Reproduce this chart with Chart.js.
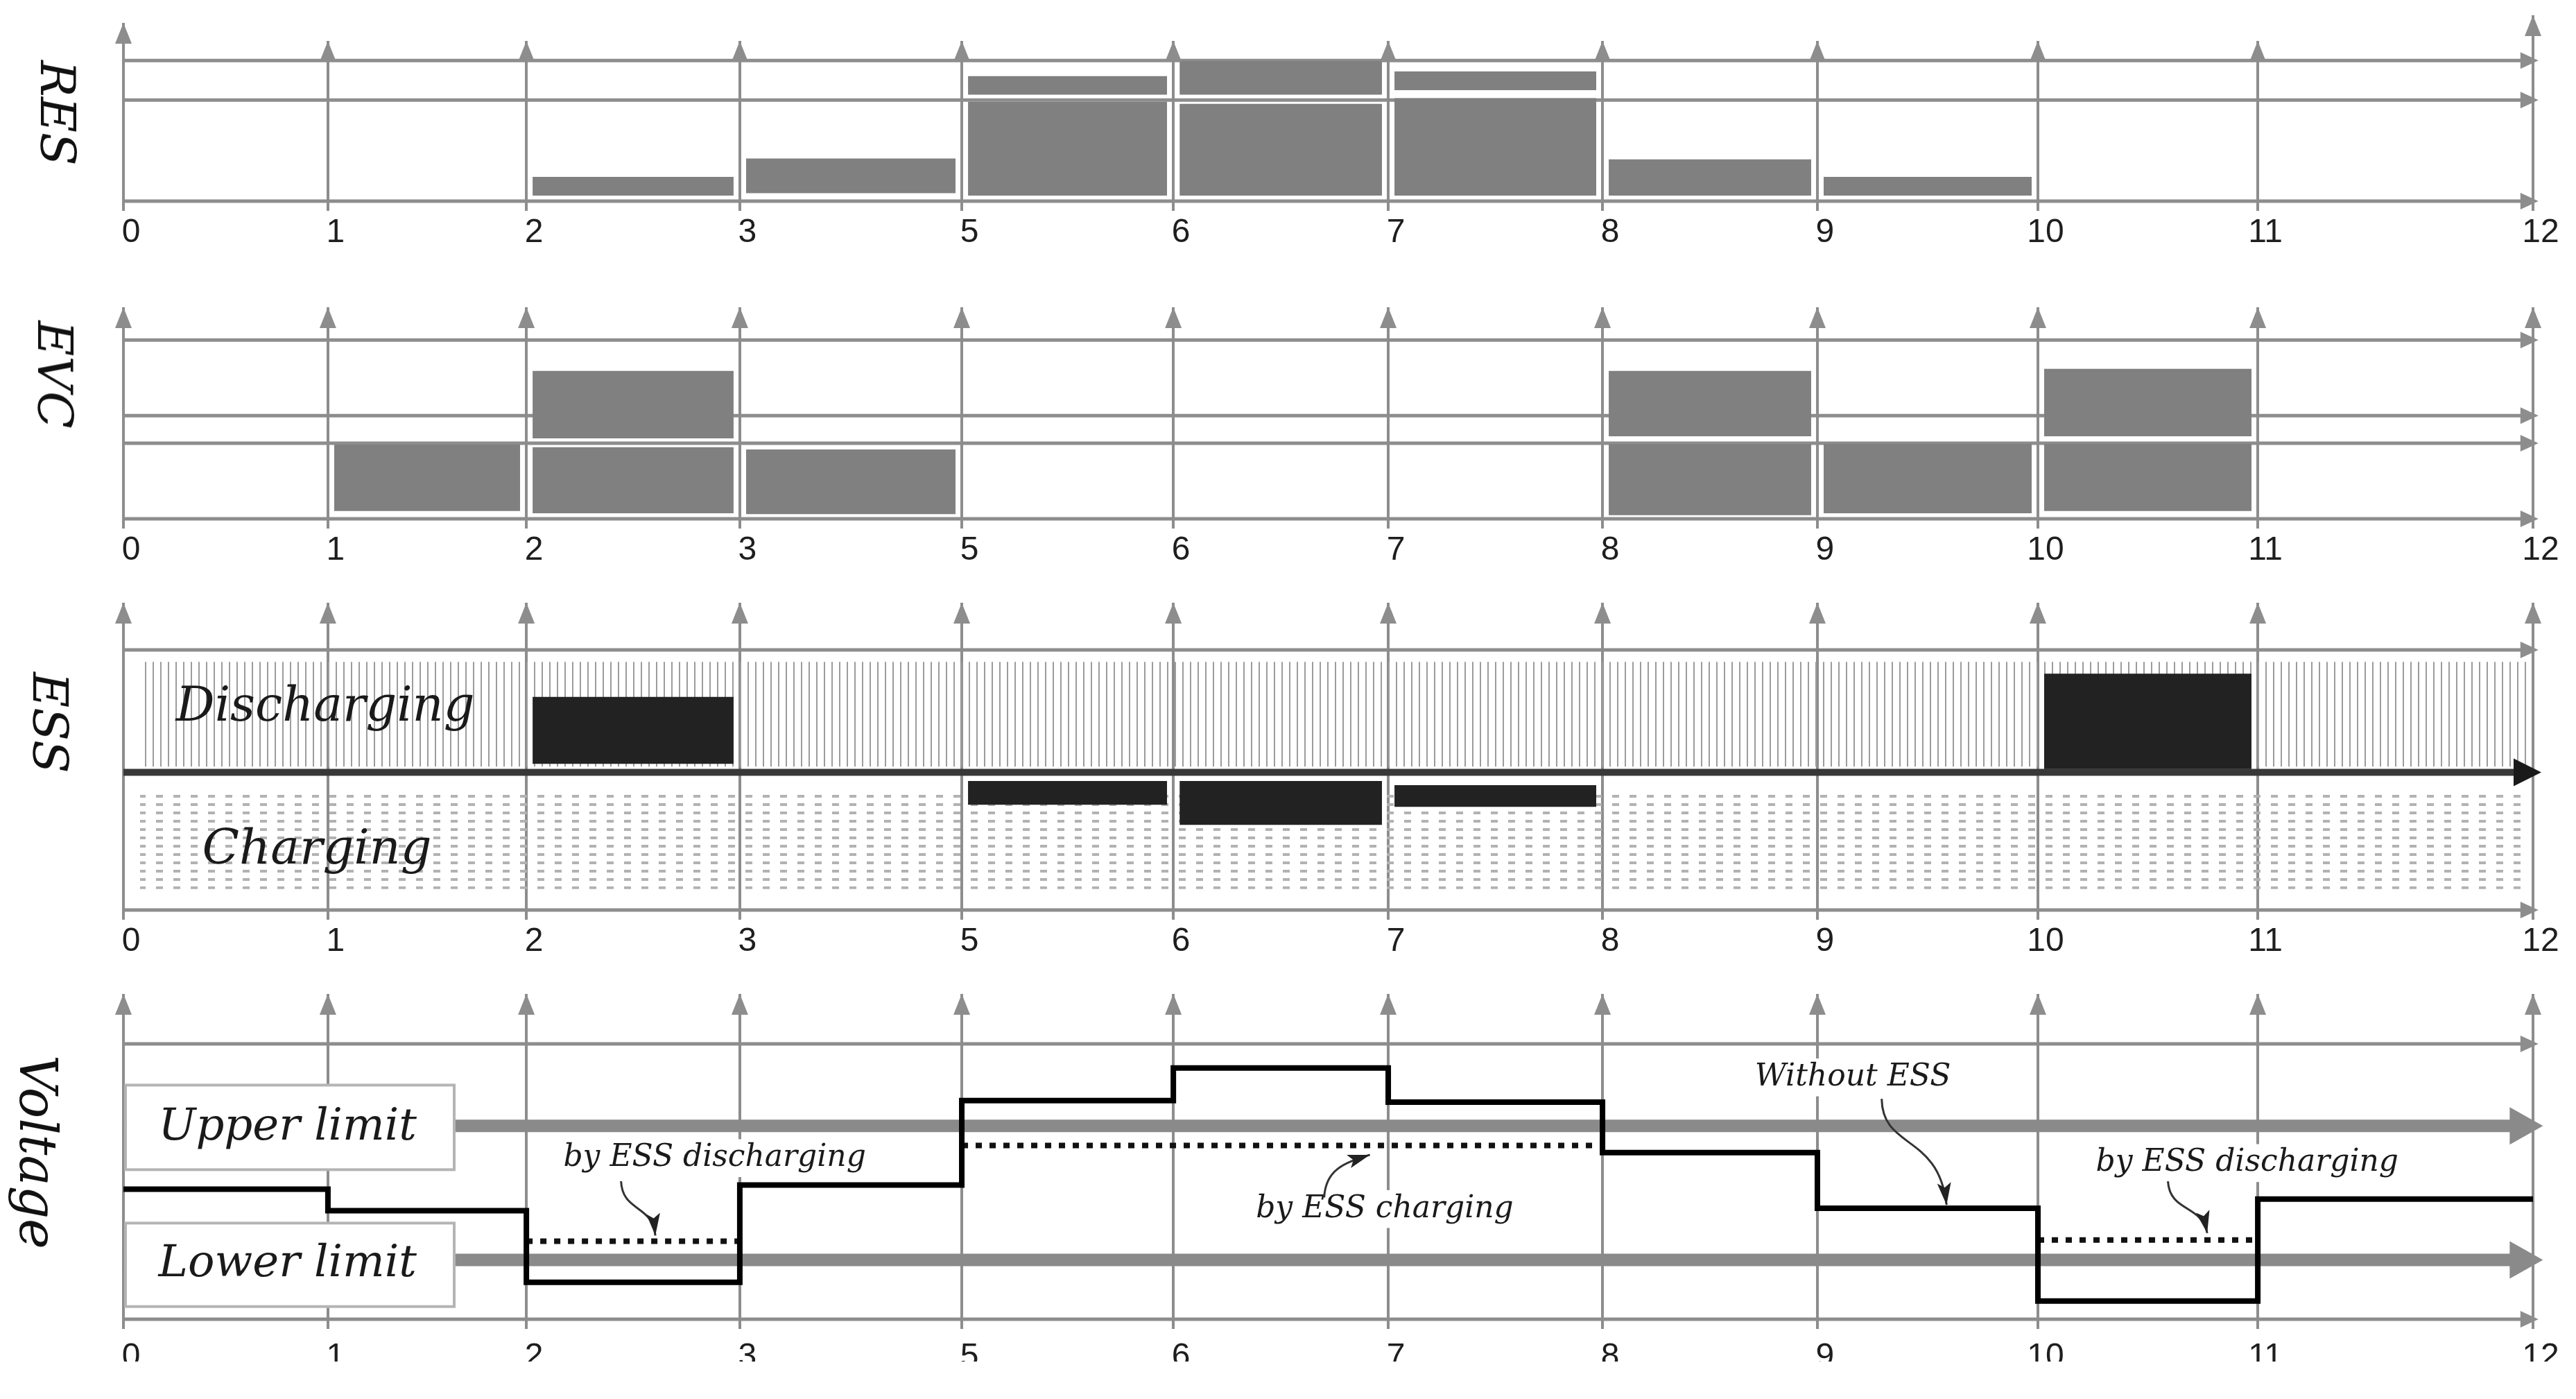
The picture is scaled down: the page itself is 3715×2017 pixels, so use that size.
<!DOCTYPE html>
<html>
<head>
<meta charset="utf-8">
<title>RES / EVC / ESS / Voltage</title>
<script src="https://cdn.jsdelivr.net/npm/chart.js@4.4.1/dist/chart.umd.min.js"></script>
<style>
  html, body { margin: 0; padding: 0; background: #fff; }
  #page { position: relative; width: 3715px; height: 2017px; overflow: hidden; background: #fff; }
  .panel { position: absolute; left: 0; }
  .panel canvas { display: block; }
  .side { position: absolute; font-family: "DejaVu Serif", serif; font-style: italic; line-height: 1;
          white-space: nowrap; color: #111; transform: translate(-50%, -50%) rotate(90deg); z-index: 2; }
</style>
</head>
<body>
<div id="page">
  <div class="side" style="left:83px; top:163px; font-size:70px">RES</div>
  <div class="side" style="left:79px; top:540px; font-size:70px">EVC</div>
  <div class="side" style="left:72px; top:1042px; font-size:70px">ESS</div>
  <div class="side" style="left:55px; top:1661px; font-size:74px">Voltage</div>
</div>
<script>
// time axis of the figure (the source skips "4")
const tickLabels = ['0', '1', '2', '3', '5', '6', '7', '8', '9', '10', '11', '12'];
const tickPos = [0, 0.983, 1.937, 2.963, 4.03, 5.047, 6.08, 7.11, 8.143, 9.203, 10.26, 11.583];

// one entry per time slot (between two ticks): [low, high] or null
const resLower = [null, null, [0.4, 1.73], [0.57, 3.04], [0.4, 7.07], [0.4, 6.92], [0.4, 7.33], [0.4, 2.97], [0.4, 1.73], null, null];
const resUpper = [null, null, null, null, [7.58, 8.9], [7.58, 9.97], [7.9, 9.23], null, null, null, null];
const resLevels = [10, 7.19];

const evcLower = [null, [0.44, 4.15], [0.31, 4.0], [0.26, 3.88], null, null, null, [0.2, 4.18], [0.31, 4.2], [0.44, 4.2], null];
const evcUpper = [null, null, [4.5, 8.27], null, null, null, null, [4.62, 8.27], null, [4.62, 8.39], null];
const evcLevels = [10, 5.77, 4.23];

const essDischarge = [null, null, [0.69, 6.16], null, null, null, null, null, null, [0.27, 8.06], null];
const essCharge = [null, null, null, null, [-2.65, -0.71], [-4.3, -0.71], [-2.82, -1.05], null, null, null, null];
const essBandX = [0.08, 11.55];
const essDischargeBand = [0.47, 9.03];
const essChargeBand = [-9.54, -1.84];

const voltNoEss = [4.72, 3.94, 1.34, 4.87, 7.94, 9.12, 7.88, 6.05, 4.03, 0.66, 4.36];
const voltWithEss = [null, null, 2.83, null, 6.31, 6.31, 6.31, null, null, 2.88, null];
const voltLimits = [7.02, 2.15];
const voltTop = 10;

const GAP = 0.03;
const GREY = '#8d8d8d', BLOCK = '#808080', DARK = '#222222';
const smallArrow = { len: 26, half: 12, color: GREY };

function slotBlocks(slots, color, order) {
  const out = [];
  slots.forEach((b, i) => {
    if (!b) return;
    out.push({
      data: [{ x: tickPos[i] + GAP, y: b[1] }, { x: tickPos[i + 1] - GAP, y: b[1] }],
      fill: { value: b[0] }, backgroundColor: color, borderColor: 'rgba(0,0,0,0)', borderWidth: 0, order
    });
  });
  return out;
}

function level(y, width, color, order, arrow) {
  return {
    data: [{ x: 0, y }, { x: tickPos[tickPos.length - 1], y }],
    borderColor: color, borderWidth: width, fill: false, order, arrow
  };
}

function band(range, pattern, order) {
  return {
    data: [{ x: essBandX[0], y: range[1] }, { x: essBandX[1], y: range[1] }],
    fill: { value: range[0] }, backgroundColor: pattern, borderWidth: 0, order
  };
}

function hatch() {
  const c = document.createElement('canvas');
  c.width = 11; c.height = 10;
  const g = c.getContext('2d');
  g.fillStyle = '#9c9c9c';
  g.fillRect(0, 0, 2, 10);
  return g.createPattern(c, 'repeat');
}

function dashes() {
  const c = document.createElement('canvas');
  c.width = 25; c.height = 12;
  const g = c.getContext('2d');
  g.fillStyle = '#b2b2b2';
  g.fillRect(0, 4, 10, 4);
  return g.createPattern(c, 'repeat');
}

const notesPlugin = {
  id: 'notes',
  afterDatasetsDraw(chart, args, opts) {
    const ctx = chart.ctx, xs = chart.scales.x, ys = chart.scales.y, area = chart.chartArea;
    const X = v => xs.getPixelForValue(v), Y = v => ys.getPixelForValue(v);
    ctx.save();

    // arrowheads on top of the vertical time lines
    ctx.fillStyle = GREY; ctx.strokeStyle = GREY; ctx.lineWidth = 4;
    tickPos.forEach((v, i) => {
      const px = X(v);
      let tip = area.top;
      const lift = (opts.lift || {})[i];
      if (lift) {
        ctx.beginPath(); ctx.moveTo(px, area.top); ctx.lineTo(px, area.top - lift); ctx.stroke();
        tip -= lift;
      }
      ctx.beginPath();
      ctx.moveTo(px, tip); ctx.lineTo(px - 12, tip + 30); ctx.lineTo(px + 12, tip + 30);
      ctx.closePath(); ctx.fill();
    });

    // arrowheads at the right end of level lines
    chart.data.datasets.forEach((ds, i) => {
      if (!ds.arrow) return;
      const pts = chart.getDatasetMeta(i).data, p = pts[pts.length - 1];
      const a = ds.arrow, tip = p.x + a.len * 0.3;
      ctx.fillStyle = a.color;
      ctx.beginPath();
      ctx.moveTo(tip, p.y); ctx.lineTo(tip - a.len, p.y - a.half); ctx.lineTo(tip - a.len, p.y + a.half);
      ctx.closePath(); ctx.fill();
    });

    (opts.boxes || []).forEach(b => {
      const x0 = X(b.x[0]), x1 = X(b.x[1]), y0 = Y(b.y[1]), y1 = Y(b.y[0]);
      ctx.fillStyle = '#fff';
      ctx.fillRect(x0, y0, x1 - x0, y1 - y0);
      ctx.strokeStyle = '#b4b4b4'; ctx.lineWidth = 4;
      ctx.strokeRect(x0, y0, x1 - x0, y1 - y0);
    });

    (opts.texts || []).forEach(t => {
      ctx.font = `italic ${t.size}px "DejaVu Serif"`;
      ctx.textAlign = 'center'; ctx.textBaseline = 'middle';
      const px = X(t.x), py = Y(t.y);
      if (t.bg) {
        const w = ctx.measureText(t.text).width;
        ctx.fillStyle = '#fff';
        ctx.fillRect(px - w / 2 - t.bg, py - t.size * 0.62, w + 2 * t.bg, t.size * 1.24);
      }
      ctx.fillStyle = '#1a1a1a';
      ctx.fillText(t.text, px, py);
    });

    (opts.pointers || []).forEach(c => {
      const p = c.map(q => [X(q[0]), Y(q[1])]);
      ctx.strokeStyle = '#333'; ctx.lineWidth = 3;
      ctx.beginPath();
      ctx.moveTo(p[0][0], p[0][1]);
      ctx.bezierCurveTo(p[1][0], p[1][1], p[2][0], p[2][1], p[3][0], p[3][1]);
      ctx.stroke();
      const ang = Math.atan2(p[3][1] - p[2][1], p[3][0] - p[2][0]);
      ctx.save();
      ctx.translate(p[3][0], p[3][1]); ctx.rotate(ang);
      ctx.fillStyle = '#222';
      ctx.beginPath();
      ctx.moveTo(0, 0); ctx.lineTo(-32, -10); ctx.lineTo(-25, 0); ctx.lineTo(-32, 10);
      ctx.closePath(); ctx.fill();
      ctx.restore();
    });

    ctx.restore();
  }
};

const page = document.getElementById('page');

function panel(cfg) {
  const div = document.createElement('div');
  div.className = 'panel';
  div.style.top = cfg.top + 'px';
  const cv = document.createElement('canvas');
  cv.width = 3715; cv.height = cfg.height;
  div.appendChild(cv);
  page.appendChild(div);
  return new Chart(cv, {
    type: 'line',
    data: { datasets: cfg.datasets.map(d => Object.assign({ pointRadius: 0, clip: false, tension: 0 }, d)) },
    options: {
      responsive: false,
      animation: false,
      events: [],
      layout: { padding: { left: 178, right: 62, top: cfg.padTop, bottom: 0 } },
      plugins: { legend: { display: false }, tooltip: { enabled: false }, notes: cfg.notes || {} },
      scales: {
        x: {
          type: 'linear', min: 0, max: tickPos[tickPos.length - 1],
          afterBuildTicks: s => { s.ticks = tickPos.map(v => ({ value: v })); },
          afterFit: s => { s.height = cfg.axisH; },
          border: { display: false },
          grid: { color: GREY, lineWidth: 4, tickLength: 14 },
          ticks: {
            autoSkip: false, maxRotation: 0, minRotation: 0,
            padding: cfg.tickPad || 3, labelOffset: 11, color: '#1e1e1e',
            font: { family: '"Liberation Sans Narrow", "Liberation Sans", Arial, sans-serif', size: 48 },
            callback: (v, i) => tickLabels[i]
          }
        },
        y: { display: false, min: cfg.yMin, max: cfg.yMax }
      }
    },
    plugins: [notesPlugin]
  });
}

// RES
panel({
  top: 0, height: 370, padTop: 59, axisH: 80, yMin: 0, yMax: 11.4,
  datasets: [
    ...slotBlocks(resLower, BLOCK, 1),
    ...slotBlocks(resUpper, BLOCK, 1),
    ...resLevels.map(v => level(v, 5, GREY, 5, smallArrow)),
    level(0, 5, GREY, 5, smallArrow)
  ],
  notes: { lift: { 0: 26, 11: 37 } }
});

// EVC
panel({
  top: 380, height: 448, padTop: 63, axisH: 80, yMin: 0, yMax: 11.83,
  datasets: [
    ...slotBlocks(evcLower, BLOCK, 1),
    ...slotBlocks(evcUpper, BLOCK, 1),
    ...evcLevels.map(v => level(v, 5, GREY, 5, smallArrow)),
    level(0, 5, GREY, 5, smallArrow)
  ]
});

// ESS
panel({
  top: 830, height: 562, padTop: 39, axisH: 80, yMin: -11.26, yMax: 13.86,
  datasets: [
    ...slotBlocks(essDischarge, DARK, 1),
    ...slotBlocks(essCharge, DARK, 1),
    level(0, 10, '#383838', 3, { len: 40, half: 20, color: '#1a1a1a' }),
    level(10, 5, GREY, 5, smallArrow),
    level(-11.26, 5, GREY, 5, smallArrow),
    band(essDischargeBand, hatch(), 8),
    band(essChargeBand, dashes(), 8)
  ],
  notes: {
    texts: [
      { text: 'Discharging', x: 0.97, y: 5.24, size: 70 },
      { text: 'Charging', x: 0.93, y: -6.45, size: 70 }
    ]
  }
});

// Voltage
const stepPts = voltNoEss.map((v, i) => ({ x: tickPos[i], y: v }));
stepPts.push({ x: tickPos[voltNoEss.length], y: voltNoEss[voltNoEss.length - 1] });
const essPts = [];
voltWithEss.forEach((v, i) => {
  if (v === null) { essPts.push({ x: tickPos[i], y: null }); return; }
  if (voltWithEss[i - 1] !== v) essPts.push({ x: tickPos[i], y: v });
  essPts.push({ x: tickPos[i + 1], y: v });
});

panel({
  top: 1395, height: 568, padTop: 38, axisH: 61, yMin: 0, yMax: 11.81, tickPad: 12,
  datasets: [
    { data: stepPts, stepped: true, borderColor: '#000', borderWidth: 8, fill: false, order: 1 },
    { data: essPts, borderColor: '#111', borderWidth: 8, borderDash: [9, 11], fill: false, spanGaps: false, order: 2 },
    ...voltLimits.map(v => level(v, 18, '#8a8a8a', 5, { len: 48, half: 27, color: '#8a8a8a' })),
    level(voltTop, 5, GREY, 6, smallArrow),
    level(0, 5, GREY, 6, smallArrow)
  ],
  notes: {
    boxes: [
      { x: [0.01, 1.59], y: [5.43, 8.5] },
      { x: [0.01, 1.59], y: [0.46, 3.49] }
    ],
    texts: [
      { text: 'Upper limit', x: 0.789, y: 6.93, size: 64 },
      { text: 'Lower limit', x: 0.789, y: 1.97, size: 64 },
      { text: 'by ESS discharging', x: 2.842, y: 5.85, size: 44, bg: 40 },
      { text: 'by ESS charging', x: 6.063, y: 4.0, size: 44, bg: 20 },
      { text: 'Without ESS', x: 8.313, y: 8.78, size: 44, bg: 20 },
      { text: 'by ESS discharging', x: 10.209, y: 5.67, size: 44, bg: 20 }
    ],
    pointers: [
      [[2.392, 5.01], [2.399, 3.88], [2.542, 4.18], [2.557, 3.04]],
      [[5.772, 4.42], [5.779, 5.43], [5.866, 5.67], [5.992, 5.97]],
      [[8.452, 8.0], [8.456, 6.15], [8.725, 6.75], [8.764, 4.15]],
      [[9.828, 5.01], [9.838, 3.88], [9.988, 4.18], [10.017, 3.13]]
    ]
  }
});
</script>
</body>
</html>
